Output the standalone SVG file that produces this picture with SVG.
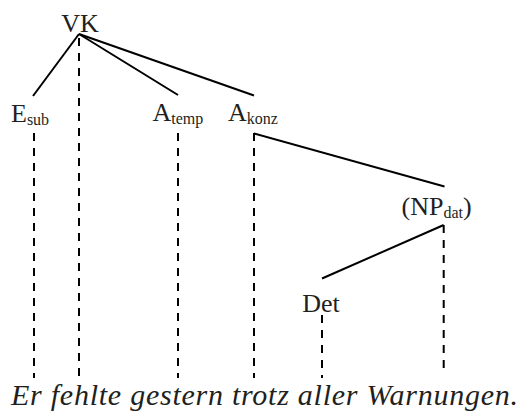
<svg xmlns="http://www.w3.org/2000/svg" width="524" height="414" viewBox="0 0 524 414">
<style>
.lbl{font-family:"Liberation Serif","Times New Roman",serif;font-size:26px;fill:#231f20}
.sub{font-size:16px}
.sent{font-family:"Liberation Serif","Times New Roman",serif;font-style:italic;font-size:30px;fill:#231f20}
.solid{stroke:#000;stroke-width:2;fill:none}
.dash{stroke:#000;stroke-width:2;fill:none;stroke-dasharray:8 7}
</style>
<rect width="524" height="414" fill="#fff"/>
<g id="connectors">
<line class="solid" x1="79" y1="34" x2="33" y2="96"/>
<line class="solid" x1="79" y1="34" x2="178" y2="95"/>
<line class="solid" x1="79" y1="34" x2="254" y2="95.5"/>
<line class="solid" x1="254" y1="133.5" x2="444.5" y2="186.5"/>
<line class="solid" x1="443.7" y1="225" x2="322" y2="278.5"/>
<line class="dash" x1="79" y1="34" x2="79" y2="376" stroke-dashoffset="-4"/>
<line class="dash" x1="34" y1="133" x2="34" y2="378"/>
<line class="dash" x1="178" y1="133" x2="178" y2="378"/>
<line class="dash" x1="254" y1="133" x2="254" y2="378"/>
<line class="dash" x1="322" y1="315" x2="322" y2="378"/>
<line class="dash" x1="443.7" y1="225" x2="443.7" y2="370"/>
</g>
<g id="VK"><text class="lbl" x="80" y="32" text-anchor="middle">VK</text></g>
<g id="Esub"><text class="lbl" x="11" y="122">E<tspan class="sub" dy="3">sub</tspan></text></g>
<g id="Atemp"><text class="lbl" x="152.5" y="121">A<tspan class="sub" dy="2.5">temp</tspan></text></g>
<g id="Akonz"><text class="lbl" x="228" y="121">A<tspan class="sub" dy="2.5">konz</tspan></text></g>
<g id="NPdat"><text class="lbl" x="401.5" y="215">(NP<tspan class="sub" dy="2.5">dat</tspan><tspan dy="-2.5">)</tspan></text></g>
<g id="Det"><text class="lbl" x="321" y="311.5" text-anchor="middle">Det</text></g>
<g id="sentence"><text class="sent" x="11" y="405" textLength="507" lengthAdjust="spacing">Er fehlte gestern trotz aller Warnungen.</text></g>
</svg>
